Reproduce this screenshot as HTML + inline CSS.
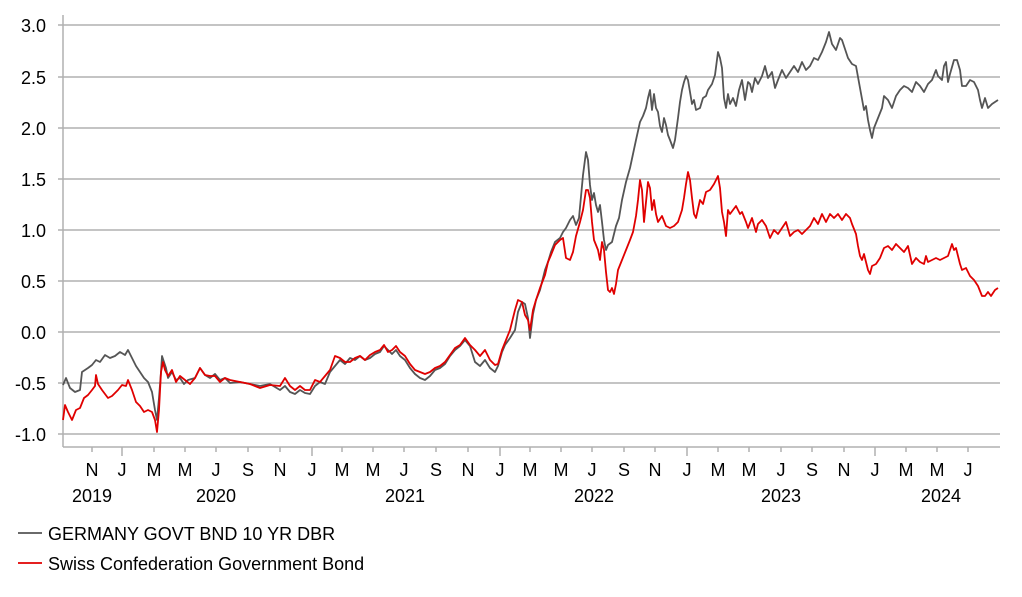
<!DOCTYPE html>
<html><head><meta charset="utf-8"><style>
body{margin:0;background:#fff}
svg{display:block;font-family:"Liberation Sans",Arial,sans-serif}
</style></head><body>
<svg width="1022" height="597" viewBox="0 0 1022 597">
<g stroke="#b0b0b0" stroke-width="1.5">
<line x1="58" y1="25" x2="1000" y2="25"/><line x1="58" y1="77" x2="1000" y2="77"/>
<line x1="58" y1="128" x2="1000" y2="128"/><line x1="58" y1="179" x2="1000" y2="179"/>
<line x1="58" y1="230" x2="1000" y2="230"/><line x1="58" y1="281" x2="1000" y2="281"/>
<line x1="58" y1="332" x2="1000" y2="332"/><line x1="58" y1="383" x2="1000" y2="383"/>
<line x1="58" y1="434" x2="1000" y2="434"/>
<line x1="63" y1="15" x2="63" y2="447"/><line x1="63" y1="447" x2="1000" y2="447"/>
</g>
<g stroke="#b0b0b0" stroke-width="1.5">
<line x1="92" y1="447" x2="92" y2="452"/><line x1="122" y1="447" x2="122" y2="456"/>
<line x1="154" y1="447" x2="154" y2="452"/><line x1="185" y1="447" x2="185" y2="452"/>
<line x1="216" y1="447" x2="216" y2="452"/><line x1="248" y1="447" x2="248" y2="452"/>
<line x1="280" y1="447" x2="280" y2="452"/><line x1="312" y1="447" x2="312" y2="456"/>
<line x1="342" y1="447" x2="342" y2="452"/><line x1="373" y1="447" x2="373" y2="452"/>
<line x1="404" y1="447" x2="404" y2="452"/><line x1="436" y1="447" x2="436" y2="452"/>
<line x1="468" y1="447" x2="468" y2="452"/><line x1="500" y1="447" x2="500" y2="456"/>
<line x1="530" y1="447" x2="530" y2="452"/><line x1="561" y1="447" x2="561" y2="452"/>
<line x1="592" y1="447" x2="592" y2="452"/><line x1="624" y1="447" x2="624" y2="452"/>
<line x1="655" y1="447" x2="655" y2="452"/><line x1="687" y1="447" x2="687" y2="456"/>
<line x1="718" y1="447" x2="718" y2="452"/><line x1="749" y1="447" x2="749" y2="452"/>
<line x1="781" y1="447" x2="781" y2="452"/><line x1="812" y1="447" x2="812" y2="452"/>
<line x1="844" y1="447" x2="844" y2="452"/><line x1="875" y1="447" x2="875" y2="456"/>
<line x1="906" y1="447" x2="906" y2="452"/><line x1="937" y1="447" x2="937" y2="452"/>
<line x1="968" y1="447" x2="968" y2="452"/>
</g>
<g font-size="18" fill="#000" text-anchor="end">
<text x="46" y="32">3.0</text><text x="46" y="84">2.5</text><text x="46" y="135">2.0</text>
<text x="46" y="186">1.5</text><text x="46" y="237">1.0</text><text x="46" y="288">0.5</text>
<text x="46" y="339">0.0</text><text x="46" y="390">-0.5</text><text x="46" y="441">-1.0</text>
</g>
<g font-size="18" fill="#000" text-anchor="middle">
<text x="92" y="476">N</text><text x="122" y="476">J</text><text x="154" y="476">M</text>
<text x="185" y="476">M</text><text x="216" y="476">J</text><text x="248" y="476">S</text>
<text x="280" y="476">N</text><text x="312" y="476">J</text><text x="342" y="476">M</text>
<text x="373" y="476">M</text><text x="404" y="476">J</text><text x="436" y="476">S</text>
<text x="468" y="476">N</text><text x="500" y="476">J</text><text x="530" y="476">M</text>
<text x="561" y="476">M</text><text x="592" y="476">J</text><text x="624" y="476">S</text>
<text x="655" y="476">N</text><text x="687" y="476">J</text><text x="718" y="476">M</text>
<text x="749" y="476">M</text><text x="781" y="476">J</text><text x="812" y="476">S</text>
<text x="844" y="476">N</text><text x="875" y="476">J</text><text x="906" y="476">M</text>
<text x="937" y="476">M</text><text x="968" y="476">J</text>
<text x="92" y="502">2019</text><text x="216" y="502">2020</text><text x="405" y="502">2021</text>
<text x="594" y="502">2022</text><text x="781" y="502">2023</text><text x="941" y="502">2024</text>
</g>
<polyline fill="none" stroke="#555" stroke-width="1.8" stroke-linejoin="round" points="63,385 66,378 70,388 75,392 80,390 82,372 88,368 92,365 96,360 100,362 105,355 110,358 115,356 120,352 125,355 128,350 132,358 136,366 140,372 144,378 148,382 152,392 155,410 157,420 159,398 161,372 162,356 164,362 166,368 168,378 172,372 176,380 180,378 184,384 188,380 195,378 200,368 205,375 210,378 215,374 220,380 225,378 230,383 240,382 250,384 260,386 270,384 280,390 285,386 290,392 295,394 300,390 305,393 310,394 315,386 320,382 325,384 330,372 335,366 340,360 345,364 350,358 355,360 360,356 365,360 370,358 375,354 380,352 384,346 388,350 392,354 396,350 400,356 405,360 410,368 415,374 420,378 425,380 430,376 435,370 440,368 445,364 450,356 455,350 460,346 465,340 470,346 475,362 480,366 485,360 490,368 495,372 498,366 502,352 505,345 510,338 515,330 518,312 522,302 525,304 528,318 530,338 533,314 536,300 540,290 545,270 548,262 551,252 555,242 560,238 563,232 566,228 570,220 573,216 576,225 579,218 583,175 586,152 588,160 590,185 592,200 594,193 596,205 598,212 600,205 602,222 604,240 606,250 608,245 612,242 616,226 619,218 622,200 626,182 630,168 633,154 636,140 640,122 643,116 646,108 648,98 650,90 652,110 654,94 656,108 658,112 660,126 662,132 664,118 666,125 668,135 670,140 673,148 675,140 678,118 680,102 682,90 684,82 686,76 688,80 690,92 692,104 694,100 696,110 700,108 703,98 706,96 708,90 712,84 715,75 718,52 720,58 722,68 724,98 726,108 728,94 730,104 733,98 736,106 739,90 742,80 745,100 748,82 750,84 752,92 755,78 758,84 762,76 765,66 768,78 772,72 775,88 778,80 782,70 786,78 790,72 794,66 798,72 802,62 806,70 810,66 814,58 818,60 822,52 826,42 829,32 832,44 836,50 840,38 842,40 846,52 848,58 852,64 856,66 860,88 864,110 866,106 868,120 870,130 872,138 874,128 878,118 882,108 884,96 888,100 892,108 896,96 900,90 904,86 908,88 912,92 916,82 920,86 924,92 928,84 932,80 936,70 938,76 942,80 944,66 946,62 948,82 950,74 954,60 957,60 960,70 962,86 966,86 970,80 974,82 978,90 980,100 982,108 985,98 988,108 992,104 995,102 998,100"/>
<polyline fill="none" stroke="#e00000" stroke-width="1.8" stroke-linejoin="round" points="63,420 65,405 68,412 72,420 76,410 80,408 84,398 88,395 92,390 95,386 96,375 98,384 102,390 108,398 112,396 118,390 122,385 126,386 128,380 132,390 136,402 140,406 144,412 148,410 152,412 155,420 157,432 159,410 161,372 163,362 165,370 168,376 172,370 176,382 180,376 185,380 190,384 195,378 200,368 205,375 210,376 215,376 220,382 225,378 230,380 240,382 250,384 260,388 270,385 280,386 285,378 290,386 295,390 300,386 305,390 310,390 315,380 320,382 325,376 330,370 335,356 340,358 345,362 350,362 355,358 360,356 365,360 370,355 375,352 380,350 384,345 388,352 392,350 396,346 400,352 405,356 410,364 415,370 420,372 425,374 430,372 435,368 440,366 445,362 450,355 455,348 460,345 465,338 470,345 475,350 480,356 485,350 490,360 495,365 498,364 502,350 506,340 510,330 515,310 518,300 522,302 525,315 528,320 530,330 533,310 536,300 540,288 545,275 548,262 551,255 555,245 560,240 563,238 566,258 570,260 573,252 576,236 580,222 583,210 586,190 588,190 590,198 592,222 594,240 596,245 598,250 600,260 602,242 604,250 606,272 608,290 610,292 612,288 614,294 616,284 618,270 622,260 626,250 630,240 633,232 636,216 638,200 640,180 642,190 644,222 646,202 648,182 650,188 652,210 654,200 656,214 658,222 662,216 666,226 670,228 674,226 678,222 682,210 684,198 686,184 688,172 690,180 692,198 694,214 696,218 700,200 703,204 706,192 710,190 714,184 718,176 720,188 722,212 724,222 726,236 728,210 730,214 733,210 736,206 740,214 742,212 746,222 748,228 752,218 756,232 758,224 762,220 766,226 770,238 774,230 778,234 782,228 786,222 790,236 794,232 798,230 802,234 806,230 810,226 814,218 818,224 822,214 826,222 830,214 834,218 838,214 842,220 846,214 850,218 852,224 856,234 858,246 860,256 862,260 864,254 866,262 868,270 870,274 872,266 876,264 880,258 884,248 888,246 892,250 896,244 900,248 904,252 908,246 912,264 916,258 920,262 924,264 926,256 928,262 932,260 936,258 940,260 944,258 948,256 950,250 952,244 954,250 956,248 958,256 960,264 962,270 966,268 970,276 974,280 978,286 982,296 985,296 988,292 991,296 995,290 998,288"/>
<line x1="18" y1="533" x2="42" y2="533" stroke="#555" stroke-width="1.8"/>
<text x="48" y="540" font-size="18">GERMANY GOVT BND 10 YR DBR</text>
<line x1="18" y1="563" x2="42" y2="563" stroke="#e00000" stroke-width="1.8"/>
<text x="48" y="570" font-size="18">Swiss Confederation Government Bond</text>
</svg>
</body></html>
